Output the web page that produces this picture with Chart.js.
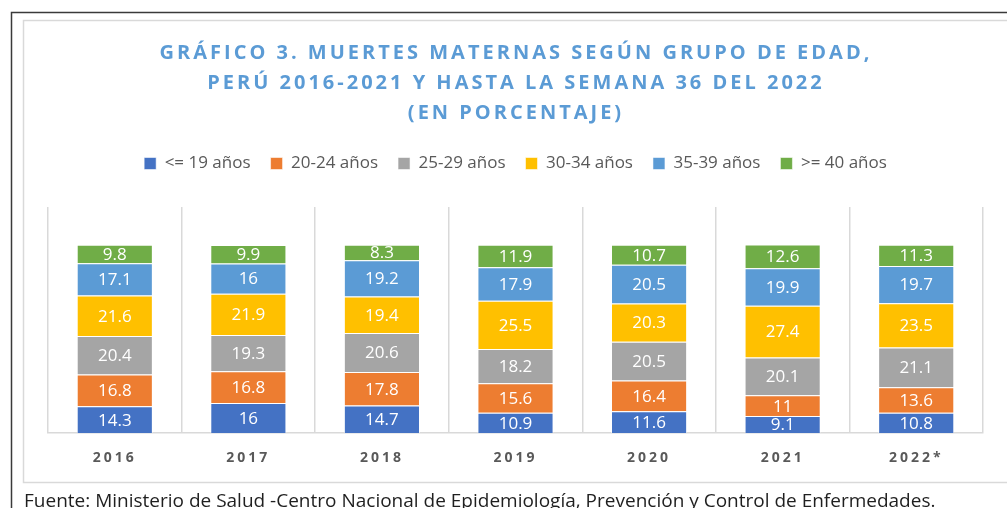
<!DOCTYPE html>
<html lang="es">
<head>
<meta charset="utf-8">
<title>Muertes maternas según grupo de edad</title>
<script src="https://cdn.jsdelivr.net/npm/chart.js@4.4.0/dist/chart.umd.min.js"></script>
<style>
  html, body { margin: 0; padding: 0; background: #fff; overflow: hidden; }
  canvas { display: block; }
</style>
</head>
<body>
<canvas id="grafico" width="1007" height="508"></canvas>
<script>
// Datos del gráfico (porcentaje de muertes maternas por grupo de edad)
const anios = ['2016', '2017', '2018', '2019', '2020', '2021', '2022*'];
const grupos = ['<= 19 años', '20-24 años', '25-29 años', '30-34 años', '35-39 años', '>= 40 años'];
const hasta19 = [14.3, 16, 14.7, 10.9, 11.6, 9.1, 10.8];
const de20a24 = [16.8, 16.8, 17.8, 15.6, 16.4, 11, 13.6];
const de25a29 = [20.4, 19.3, 20.6, 18.2, 20.5, 20.1, 21.1];
const de30a34 = [21.6, 21.9, 19.4, 25.5, 20.3, 27.4, 23.5];
const de35a39 = [17.1, 16, 19.2, 17.9, 20.5, 19.9, 19.7];
const desde40 = [9.8, 9.9, 8.3, 11.9, 10.7, 12.6, 11.3];
const colores = ['#4472C4', '#ED7D31', '#A5A5A5', '#FFC000', '#5B9BD5', '#70AD47'];

const tituloLineas = [
  'GRÁFICO 3. MUERTES MATERNAS SEGÚN GRUPO DE EDAD,',
  'PERÚ 2016-2021 Y HASTA LA SEMANA 36 DEL 2022',
  '(EN PORCENTAJE)'
];
const fuente = 'Fuente: Ministerio de Salud -Centro Nacional de Epidemiología, Prevención y Control de Enfermedades.';

const series = [hasta19, de20a24, de25a29, de30a34, de35a39, desde40];

// Marco del gráfico (borde negro exterior y borde gris interior)
const marco = {
  id: 'marco',
  beforeDraw(chart) {
    const ctx = chart.ctx;
    ctx.save();
    ctx.strokeStyle = '#3a3a3a';
    ctx.lineWidth = 1.5;
    ctx.beginPath();
    ctx.moveTo(11.5, 508);
    ctx.lineTo(11.5, 12.5);
    ctx.lineTo(1007, 12.5);
    ctx.stroke();
    ctx.strokeStyle = '#d9d9d9';
    ctx.beginPath();
    ctx.moveTo(1007, 20.5);
    ctx.lineTo(23.5, 20.5);
    ctx.lineTo(23.5, 482.5);
    ctx.lineTo(1007, 482.5);
    ctx.stroke();
    ctx.restore();
  }
};

// Etiquetas de valor dentro de cada segmento
const etiquetas = {
  id: 'etiquetas',
  afterDatasetsDraw(chart) {
    const ctx = chart.ctx;
    ctx.save();
    ctx.font = '17px "Open Sans", sans-serif';
    ctx.fillStyle = '#ffffff';
    ctx.textAlign = 'center';
    ctx.textBaseline = 'middle';
    chart.data.datasets.forEach((ds, i) => {
      const meta = chart.getDatasetMeta(i);
      meta.data.forEach((bar, j) => {
        const y = (bar.y + bar.base) / 2;
        ctx.fillText(String(ds.data[j]), bar.x, y + 1);
      });
    });
    ctx.restore();
    // los años del eje x se dibujan después, con letras espaciadas
    ctx.letterSpacing = '3px';
  }
};

// Título y fuente
const textos = {
  id: 'textos',
  afterDraw(chart) {
    const ctx = chart.ctx;
    ctx.save();
    ctx.letterSpacing = '3px';
    ctx.font = 'bold 20px "Open Sans", sans-serif';
    ctx.fillStyle = '#5B9BD5';
    ctx.textAlign = 'center';
    ctx.textBaseline = 'middle';
    tituloLineas.forEach((linea, i) => {
      ctx.fillText(linea, 516, 53 + i * 30);
    });
    ctx.letterSpacing = '0px';
    ctx.font = '19px "Open Sans", sans-serif';
    ctx.fillStyle = '#1f1f1f';
    ctx.textAlign = 'left';
    ctx.textBaseline = 'alphabetic';
    ctx.fillText(fuente, 24, 507);
    ctx.restore();
    ctx.letterSpacing = '0px';
  }
};

// Espacio extra debajo de la leyenda
const margenLeyenda = {
  id: 'margenLeyenda',
  beforeInit(chart) {
    const fitOriginal = chart.legend.fit;
    chart.legend.fit = function () {
      fitOriginal.bind(chart.legend)();
      this.height += 25;
    };
  }
};

new Chart(document.getElementById('grafico'), {
  type: 'bar',
  data: {
    labels: anios,
    datasets: grupos.map((g, i) => ({
      label: g,
      data: series[i],
      backgroundColor: colores[i],
      borderColor: 'rgba(255,255,255,0.55)',
      borderWidth: 1,
      categoryPercentage: 1,
      barPercentage: 0.57
    }))
  },
  options: {
    responsive: false,
    devicePixelRatio: 1,
    animation: false,
    layout: {
      padding: { top: 135, left: 48, right: 24, bottom: 26 }
    },
    plugins: {
      legend: {
        position: 'top',
        labels: {
          boxWidth: 12,
          boxHeight: 12,
          padding: 20,
          color: '#595959',
          font: { family: '"Open Sans", sans-serif', size: 17 }
        }
      },
      tooltip: { enabled: false },
      title: { display: false }
    },
    scales: {
      x: {
        stacked: true,
        grid: {
          display: true,
          offset: true,
          color: '#d9d9d9',
          lineWidth: 1.5,
          drawTicks: false
        },
        border: { display: true, color: '#d9d9d9', width: 1.5 },
        ticks: {
          z: 1,
          padding: 16,
          color: '#595959',
          font: { family: '"Open Sans", sans-serif', size: 14, weight: 'bold' }
        }
      },
      y: {
        stacked: true,
        display: false,
        min: 0,
        max: 120
      }
    }
  },
  plugins: [marco, etiquetas, textos, margenLeyenda]
});
</script>
</body>
</html>
